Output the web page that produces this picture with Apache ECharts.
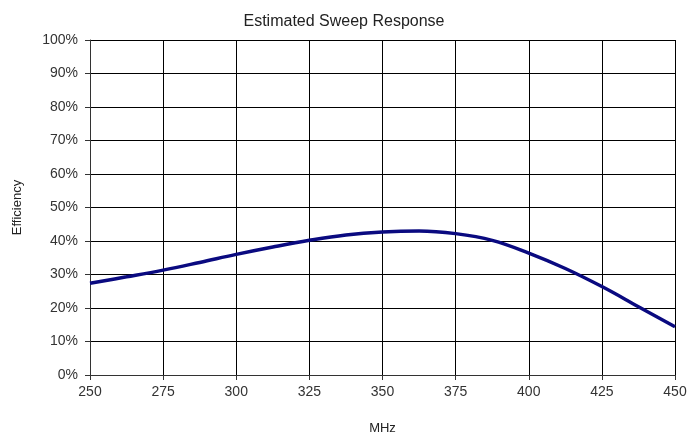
<!DOCTYPE html>
<html><head><meta charset="utf-8">
<script src="https://cdn.jsdelivr.net/npm/echarts@6/dist/echarts.min.js"></script>
<style>html,body{margin:0;padding:0;background:#fff}#c{width:688px;height:435px}</style>
</head><body><div id="c"></div>
<script>
const freqs = [250, 262.5, 275, 287.5, 300, 312.5, 325, 337.5, 350, 362.5, 375, 387.5, 400, 412.5, 425, 437.5, 450];
const efficiency = [27.4, 29.3, 31.3, 33.6, 36.0, 38.2, 40.2, 41.8, 42.7, 43.0, 42.2, 40.2, 36.4, 31.8, 26.4, 20.4, 14.4];
const xTicks = [250, 275, 300, 325, 350, 375, 400, 425, 450];
const yTicks = [0, 10, 20, 30, 40, 50, 60, 70, 80, 90, 100];
const titleText = 'Estimated Sweep Response';
const xName = 'MHz';
const yName = 'Efficiency';

const chart = echarts.init(document.getElementById('c'), null, {renderer: 'canvas'});
const font = 'Liberation Sans, Arial, sans-serif';
chart.setOption({
  animation: false,
  title: {text: titleText, left: 'center', top: 9, textStyle: {fontFamily: font, fontSize: 16, fontWeight: 'normal', color: '#222'}},
  grid: {left: 90, right: 13, top: 40, bottom: 60, containLabel: false, outerBoundsMode: 'none'},
  xAxis: {
    type: 'value', min: xTicks[0], max: xTicks[xTicks.length - 1], interval: 25,
    name: xName, nameLocation: 'middle', nameGap: 47,
    nameTextStyle: {fontFamily: font, fontSize: 13, color: '#222'},
    axisLine: {show: true, lineStyle: {color: '#333', width: 1}},
    axisTick: {show: true, length: 5, lineStyle: {color: '#333'}},
    axisLabel: {fontFamily: font, fontSize: 14, color: '#333', margin: 10},
    splitLine: {show: true, lineStyle: {color: '#000', width: 1}}
  },
  yAxis: {
    type: 'value', min: yTicks[0], max: yTicks[yTicks.length - 1], interval: 10,
    name: yName, nameLocation: 'middle', nameGap: 66, nameRotate: 90,
    nameTextStyle: {fontFamily: font, fontSize: 13, color: '#222'},
    axisLine: {show: true, lineStyle: {color: '#333', width: 1}},
    axisTick: {show: true, length: 5, lineStyle: {color: '#333'}},
    axisLabel: {fontFamily: font, fontSize: 14, color: '#333', margin: 12, formatter: v => v + '%'},
    splitLine: {show: true, lineStyle: {color: '#000', width: 1}}
  },
  series: [{
    type: 'line', smooth: 0.4, symbol: 'none',
    data: freqs.map((f, i) => [f, efficiency[i]]),
    lineStyle: {color: '#0a0a80', width: 3.5}
  }]
});
</script></body></html>
